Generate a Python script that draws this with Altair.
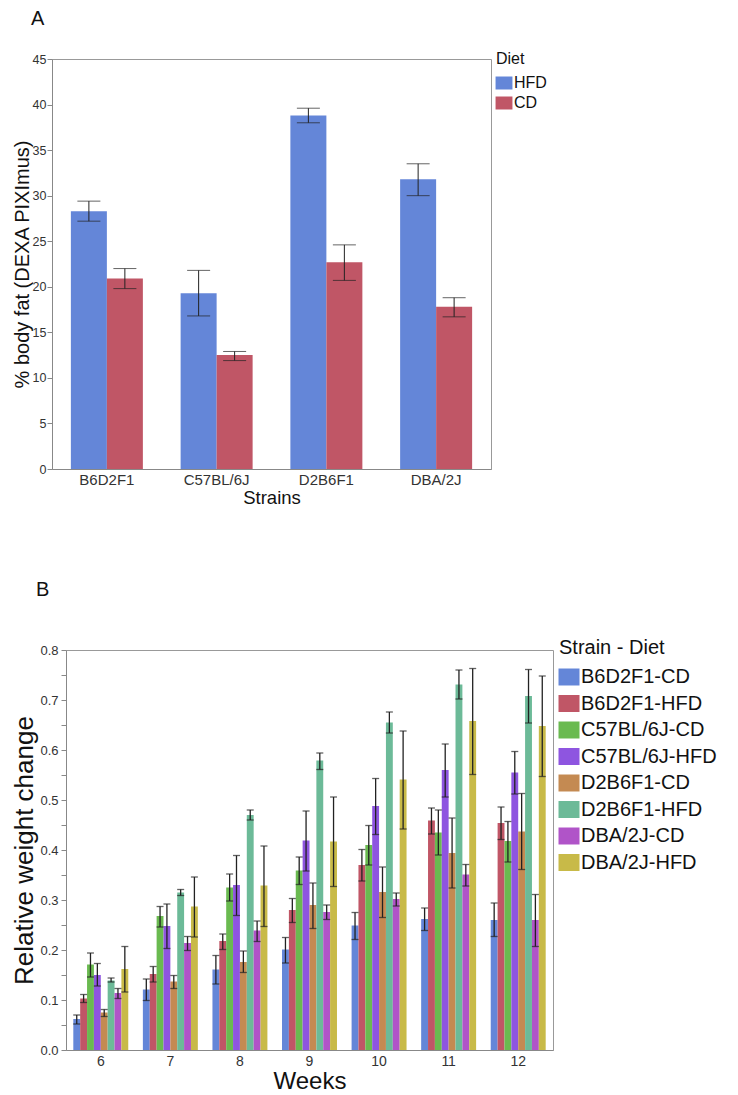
import altair as alt
import pandas as pd

FONT = "Liberation Sans"

# ---------------- Panel A data ----------------
strains = ["B6D2F1", "C57BL/6J", "D2B6F1", "DBA/2J"]
diets = ["HFD", "CD"]
diet_colors = ["#6486D8", "#C05666"]
hfd_mean = [28.3, 19.3, 38.8, 31.8]
hfd_low = [27.2, 16.8, 38.0, 30.0]
hfd_high = [29.4, 21.8, 39.6, 33.5]
cd_mean = [20.9, 12.5, 22.7, 17.8]
cd_low = [19.8, 11.9, 20.7, 16.7]
cd_high = [22.0, 12.9, 24.6, 18.8]
y_ticks_a = [0, 5, 10, 15, 20, 25, 30, 35, 40, 45]

# ---------------- Panel B data ----------------
weeks = ["6", "7", "8", "9", "10", "11", "12"]
groups = ["B6D2F1-CD", "B6D2F1-HFD", "C57BL/6J-CD", "C57BL/6J-HFD",
          "D2B6F1-CD", "D2B6F1-HFD", "DBA/2J-CD", "DBA/2J-HFD"]
group_colors = ["#6486D8", "#C05666", "#6ABA50", "#8E55E0",
                "#C48A52", "#6CBA98", "#B054C8", "#C8BA48"]

b6d2f1_cd_mean = [0.062, 0.121, 0.161, 0.201, 0.249, 0.262, 0.260]
b6d2f1_cd_low = [0.052, 0.099, 0.132, 0.174, 0.221, 0.239, 0.227]
b6d2f1_cd_high = [0.070, 0.142, 0.189, 0.225, 0.275, 0.284, 0.294]

b6d2f1_hfd_mean = [0.103, 0.152, 0.218, 0.280, 0.370, 0.459, 0.454]
b6d2f1_hfd_low = [0.095, 0.136, 0.201, 0.255, 0.338, 0.432, 0.421]
b6d2f1_hfd_high = [0.111, 0.167, 0.232, 0.303, 0.401, 0.484, 0.486]

c57_cd_mean = [0.171, 0.268, 0.325, 0.359, 0.410, 0.435, 0.418]
c57_cd_low = [0.146, 0.246, 0.298, 0.331, 0.370, 0.390, 0.376]
c57_cd_high = [0.194, 0.287, 0.352, 0.386, 0.449, 0.480, 0.457]

c57_hfd_mean = [0.150, 0.248, 0.330, 0.419, 0.488, 0.560, 0.555]
c57_hfd_low = [0.128, 0.203, 0.269, 0.358, 0.431, 0.506, 0.512]
c57_hfd_high = [0.173, 0.292, 0.389, 0.478, 0.543, 0.612, 0.597]

d2b6f1_cd_mean = [0.075, 0.137, 0.176, 0.290, 0.316, 0.394, 0.437]
d2b6f1_cd_low = [0.067, 0.123, 0.155, 0.243, 0.265, 0.324, 0.361]
d2b6f1_cd_high = [0.081, 0.149, 0.198, 0.334, 0.366, 0.464, 0.513]

d2b6f1_hfd_mean = [0.139, 0.315, 0.470, 0.579, 0.655, 0.731, 0.708]
d2b6f1_hfd_low = [0.136, 0.309, 0.460, 0.561, 0.634, 0.702, 0.654]
d2b6f1_hfd_high = [0.144, 0.321, 0.480, 0.594, 0.676, 0.760, 0.761]

dba_cd_mean = [0.114, 0.214, 0.239, 0.276, 0.302, 0.351, 0.260]
dba_cd_low = [0.103, 0.199, 0.217, 0.261, 0.288, 0.328, 0.207]
dba_cd_high = [0.123, 0.227, 0.258, 0.290, 0.314, 0.371, 0.311]

dba_hfd_mean = [0.162, 0.287, 0.329, 0.417, 0.541, 0.658, 0.648]
dba_hfd_low = [0.116, 0.226, 0.247, 0.327, 0.442, 0.551, 0.547]
dba_hfd_high = [0.207, 0.346, 0.408, 0.506, 0.638, 0.763, 0.748]

y_ticks_b = [0.0, 0.05, 0.1, 0.15, 0.2, 0.25, 0.3, 0.35, 0.4, 0.45,
             0.5, 0.55, 0.6, 0.65, 0.7, 0.75, 0.8]

# ---------------- Build tables ----------------
rows_a = []
for i, s in enumerate(strains):
    rows_a.append({"strain": s, "diet": "HFD", "mean": hfd_mean[i], "low": hfd_low[i], "high": hfd_high[i]})
    rows_a.append({"strain": s, "diet": "CD", "mean": cd_mean[i], "low": cd_low[i], "high": cd_high[i]})
df_a = pd.DataFrame(rows_a)

series_b = [
    (b6d2f1_cd_mean, b6d2f1_cd_low, b6d2f1_cd_high),
    (b6d2f1_hfd_mean, b6d2f1_hfd_low, b6d2f1_hfd_high),
    (c57_cd_mean, c57_cd_low, c57_cd_high),
    (c57_hfd_mean, c57_hfd_low, c57_hfd_high),
    (d2b6f1_cd_mean, d2b6f1_cd_low, d2b6f1_cd_high),
    (d2b6f1_hfd_mean, d2b6f1_hfd_low, d2b6f1_hfd_high),
    (dba_cd_mean, dba_cd_low, dba_cd_high),
    (dba_hfd_mean, dba_hfd_low, dba_hfd_high),
]
rows_b = []
for g, (m, lo, hi) in zip(groups, series_b):
    for j, w in enumerate(weeks):
        rows_b.append({"week": w, "group": g, "mean": m[j], "low": lo[j], "high": hi[j]})
df_b = pd.DataFrame(rows_b)

# ---------------- Panel A ----------------
y_axis_a = alt.Axis(values=y_ticks_a, grid=False, labelFontSize=12.5, titleFontSize=20,
                    titlePadding=0, labelPadding=1, tickSize=5)
x_a = alt.X("strain:N", sort=strains,
            scale=alt.Scale(paddingInner=0.344, paddingOuter=0.172),
            axis=alt.Axis(title="Strains", labelAngle=0, ticks=False, labelFontSize=15,
                          titleFontSize=18.5, labelPadding=3, titlePadding=1))
xo_a = alt.XOffset("diet:N", sort=diets, scale=alt.Scale(paddingInner=0, paddingOuter=0))
ytitle_a = "% body fat (DEXA PIXImus)"
yscale_a = alt.Scale(domain=[0, 45], nice=False)

base_a = alt.Chart(df_a)
bars_a = base_a.mark_bar().encode(
    x=x_a, xOffset=xo_a,
    y=alt.Y("mean:Q", scale=yscale_a, axis=y_axis_a, title=ytitle_a),
    color=alt.Color("diet:N", sort=diets,
                    scale=alt.Scale(domain=diets, range=diet_colors),
                    legend=alt.Legend(title="Diet", orient="none", legendX=444, legendY=-8,
                                      titleFontSize=16, labelFontSize=16, titleFontWeight="normal",
                                      symbolType="M-1.3,-1H1.3V1H-1.3Z", symbolSize=169,
                                      symbolStrokeWidth=0, symbolOpacity=1, labelOffset=2,
                                      rowPadding=4, titlePadding=8)),
)
rule_a = base_a.mark_rule(color="#222", strokeWidth=1).encode(
    x=x_a, xOffset=xo_a,
    y=alt.Y("low:Q", scale=yscale_a, axis=y_axis_a, title=ytitle_a), y2="high:Q")
cap_lo_a = base_a.mark_tick(color="#222", thickness=1, size=23).encode(
    x=x_a, xOffset=xo_a, y=alt.Y("low:Q", scale=yscale_a, axis=y_axis_a, title=ytitle_a))
cap_hi_a = base_a.mark_tick(color="#222", thickness=1, size=23).encode(
    x=x_a, xOffset=xo_a, y=alt.Y("high:Q", scale=yscale_a, axis=y_axis_a, title=ytitle_a))

chart_a = alt.layer(bars_a, rule_a, cap_lo_a, cap_hi_a).properties(
    width=439, height=410,
    title=alt.TitleParams("A", anchor="start", fontSize=20, fontWeight="normal",
                          font=FONT, color="#111", dx=19, offset=22),
)

# ---------------- Panel B ----------------
y_axis_b = alt.Axis(values=y_ticks_b, grid=False, labelFontSize=13, titleFontSize=26,
                    titlePadding=2, labelPadding=3, tickSize=5,
                    labelExpr="round(datum.value*100) % 10 == 0 ? format(datum.value, '.1f') : ''")
x_b = alt.X("week:N", sort=weeks,
            scale=alt.Scale(paddingInner=0.21, paddingOuter=0.105),
            axis=alt.Axis(title="Weeks", labelAngle=0, ticks=False, labelFontSize=14,
                          titleFontSize=24, labelPadding=4, titlePadding=1))
xo_b = alt.XOffset("group:N", sort=groups, scale=alt.Scale(paddingInner=0, paddingOuter=0))
ytitle_b = "Relative weight change"
yscale_b = alt.Scale(domain=[0, 0.8], nice=False)

base_b = alt.Chart(df_b)
bars_b = base_b.mark_bar().encode(
    x=x_b, xOffset=xo_b,
    y=alt.Y("mean:Q", scale=yscale_b, axis=y_axis_b, title=ytitle_b),
    color=alt.Color("group:N", sort=groups,
                    scale=alt.Scale(domain=groups, range=group_colors),
                    legend=alt.Legend(title="Strain - Diet", orient="none", legendX=493, legendY=-12,
                                      titleFontSize=20, labelFontSize=20, titleFontWeight="normal",
                                      symbolType="M-1.235,-1H1.235V1H-1.235Z", symbolSize=289,
                                      symbolStrokeWidth=0, symbolOpacity=1, labelOffset=2,
                                      rowPadding=6.5, titlePadding=9)),
)
rule_b = base_b.mark_rule(color="#222", strokeWidth=1.3).encode(
    x=x_b, xOffset=xo_b,
    y=alt.Y("low:Q", scale=yscale_b, axis=y_axis_b, title=ytitle_b), y2="high:Q")
cap_lo_b = base_b.mark_tick(color="#222", thickness=1.3, size=7).encode(
    x=x_b, xOffset=xo_b, y=alt.Y("low:Q", scale=yscale_b, axis=y_axis_b, title=ytitle_b))
cap_hi_b = base_b.mark_tick(color="#222", thickness=1.3, size=7).encode(
    x=x_b, xOffset=xo_b, y=alt.Y("high:Q", scale=yscale_b, axis=y_axis_b, title=ytitle_b))

chart_b = alt.layer(bars_b, rule_b, cap_lo_b, cap_hi_b).properties(
    width=487, height=400,
    title=alt.TitleParams("B", anchor="start", fontSize=20, fontWeight="normal",
                          font=FONT, color="#111", dx=24, offset=38),
)

# invisible 1px spacers in the first column so each panel is placed flush left
spacer_df = pd.DataFrame({"v": [0]})
def spacer():
    return alt.Chart(spacer_df).mark_point(opacity=0, size=0).encode(
        x=alt.value(0), y=alt.value(0)
    ).properties(width=1, height=1, view=alt.ViewBackground(stroke="transparent"))

chart = alt.concat(
    spacer(), chart_a, spacer(), chart_b,
    columns=2,
    spacing=alt.RowColnumber(row=72, column=0),
    align=alt.RowColLayoutAlign(column="none", row="each"),
).resolve_scale(
    color="independent", xOffset="independent", x="independent", y="independent"
).properties(
    padding={"left": 0, "top": 0, "right": 5, "bottom": 0}
).configure(
    font=FONT,
).configure_view(
    stroke="#999", strokeWidth=1,
).configure_axis(
    domainColor="#888", tickColor="#888", labelColor="#333", titleColor="#111",
    titleFontWeight="normal", labelFont=FONT, titleFont=FONT,
).configure_legend(
    labelFont=FONT, titleFont=FONT, labelColor="#111", titleColor="#111",
)

chart.save("out.html", embed_options={"renderer": "svg", "actions": False})
